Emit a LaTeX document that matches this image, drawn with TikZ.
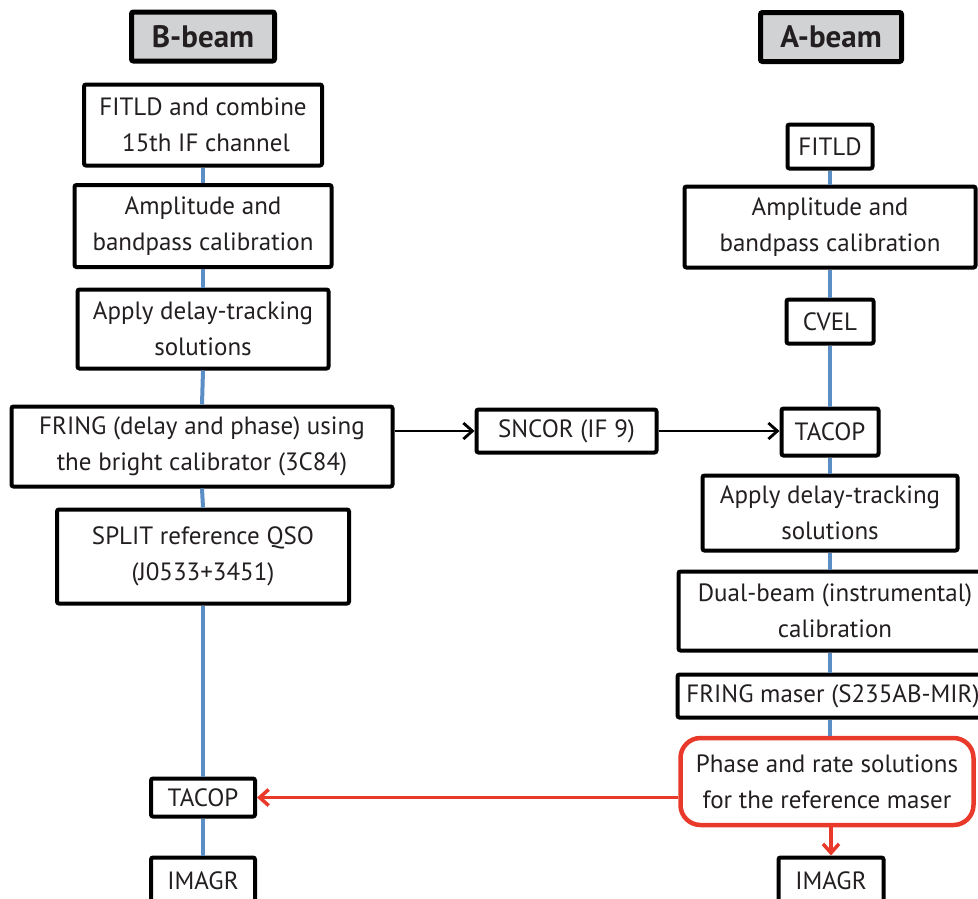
\documentclass[tikz,border=0pt]{standalone}
\usepackage{fontspec}
\setmainfont{PT Sans}
\usetikzlibrary{arrows.meta}
\definecolor{linkblue}{HTML}{5B8EC4}
\definecolor{hl}{HTML}{E8392B}
\definecolor{hdr}{HTML}{D1D2D4}
\definecolor{ink}{HTML}{231F20}

\begin{document}
\begin{tikzpicture}[x=1pt,y=-1pt,
  box/.style={draw=black, line width=4pt, fill=white, rounded corners=2pt,
    inner sep=0pt, align=center, text=ink, font=\fontsize{25}{36}\selectfont},
  head/.style={box, fill=hdr, line width=5pt, font=\fontsize{31}{36}\selectfont\bfseries},
  redbox/.style={box, draw=hl, line width=4.5pt, rounded corners=20pt},
  link/.style={draw=linkblue, line width=4pt},
  flow/.style={draw=black, line width=2.8pt, -{Straight Barb[length=9pt,width=16pt]}},
  back/.style={draw=hl, line width=3.5pt, -{Straight Barb[length=9pt,width=16pt]}},
]
\useasboundingbox (0,0) rectangle (978,898);

% B-beam column
\node[head, minimum width=143, minimum height=49] (bh) at (203,36.5) {B-beam};
\node[box, minimum width=238, minimum height=81] (b1) at (203,125) {FITLD and combine\\\hspace*{6pt}15th IF channel};
\node[box, minimum width=257, minimum height=82] (b2) at (203,226) {Amplitude and\\bandpass calibration};
\node[box, minimum width=251, minimum height=79] (b3) at (203,329) {Apply delay-tracking\\solutions};
\node[box, minimum width=381, minimum height=80] (b4) at (202,446.5) {FRING (delay and phase) using\\the bright calibrator (3C84)};
\node[box, minimum width=292, minimum height=94] (b5) at (203,556.5) {SPLIT reference QSO\\(J0533+3451)};
\node[box, minimum width=104, minimum height=38] (b6) at (203,797.5) {TACOP};
\node[box, minimum width=104, minimum height=46, anchor=north] (b7) at (203,855.5) {IMAGR};

% A-beam column
\node[head, minimum width=141, minimum height=49] (ah) at (831,37) {A-beam};
\node[box, minimum width=85, minimum height=44] (a1) at (830,146.5) {FITLD};
\node[box, minimum width=291, minimum height=81] (a2) at (830,227) {Amplitude and\\bandpass calibration};
\node[box, minimum width=87, minimum height=44] (a3) at (830,321.5) {CVEL};
\node[box, minimum width=97, minimum height=47] (a4) at (830,432) {TACOP};
\node[box, minimum width=255, minimum height=75] (a5) at (830,513) {Apply delay-tracking\\solutions};
\node[box, minimum width=320, minimum height=79, anchor=west] (a6) at (676.5,611) {\hspace*{-7pt}Dual-beam (instrumental)\\\hspace*{-7pt}calibration};
\node[box, minimum width=320, minimum height=43, anchor=west] (a7) at (675.5,696) {\hspace*{-9pt}FRING maser (S235AB-MIR)};
\node[redbox, minimum width=293, minimum height=87] (a8) at (827,781.5) {Phase and rate solutions\\for the reference maser};
\node[box, minimum width=105, minimum height=46, anchor=north] (a9) at (831,855.5) {IMAGR};

% cross-beam correction
\node[box, minimum width=180, minimum height=43] (sn) at (566.5,431) {SNCOR (IF 9)};

% processing chains
\foreach \u/\v in {b1/b2,b2/b3,b3/b4,b4/b5,b5/b6,b6/b7,a1/a2,a2/a3,a3/a4,a4/a5}
  \draw[link] (\u.south) -- (\v.north);
\draw[link] (a5.south) -- (a5.south |- a6.north);
\draw[link] (a5.south |- a6.south) -- (a5.south |- a7.north);
\draw[link] (a5.south |- a7.south) -- (a5.south |- a8.north);

% solution transfers
\draw[flow] (b4.east |- sn.west) -- (sn.west);
\draw[flow] (sn.east) -- (sn.east -| a4.west);
\draw[back] (a8.west |- b6.east) -- (b6.east);
\draw[back] (a9.north |- a8.south) -- (a9.north);
\end{tikzpicture}
\end{document}
